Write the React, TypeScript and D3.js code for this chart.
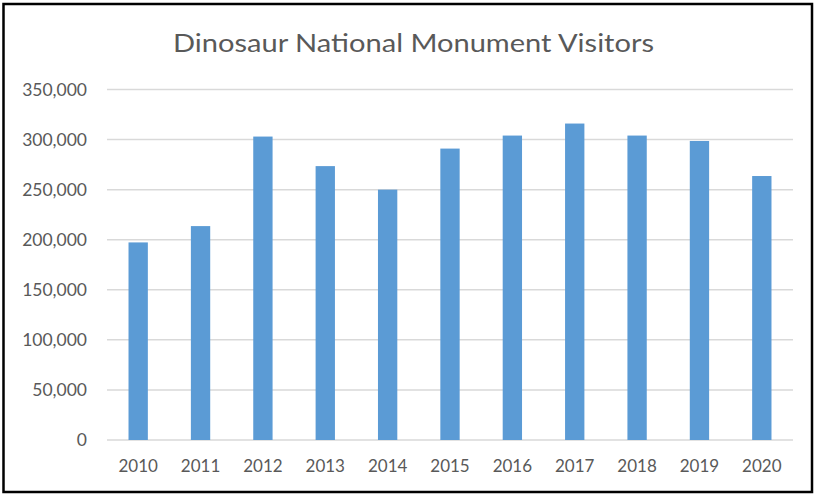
import React from "react";
import * as d3 from "d3";

const years = ["2010", "2011", "2012", "2013", "2014", "2015", "2016", "2017", "2018", "2019", "2020"];
const visitors = [197300, 213600, 303000, 273500, 250000, 291000, 304000, 316000, 304000, 298600, 263600];
const yTicks = [0, 50000, 100000, 150000, 200000, 250000, 300000, 350000];

const W = 815;
const H = 495;
const margin = { top: 89.5, right: 22, bottom: 55, left: 107 };
const font = "Lato, 'Open Sans', sans-serif";
const textColor = "#595959";

export default function App() {
  const x = d3
    .scaleBand<string>()
    .domain(years)
    .range([margin.left, W - margin.right])
    .paddingInner(0.69)
    .paddingOuter(0.345);

  const y = d3
    .scaleLinear()
    .domain([0, 350000])
    .range([H - margin.bottom, margin.top]);

  const fmt = d3.format(",");

  return (
    <svg
      width={W}
      height={H}
      style={{ position: "fixed", left: 0, top: 0, background: "#fff" }}
    >
      <rect x={0} y={0} width={W} height={H} fill="#fff" />
      {/* outer frame */}
      <rect x={3.5} y={4} width={808.5} height={488} fill="none" stroke="#000" strokeWidth={2.5} />

      <text
        x={413.5}
        y={52}
        textAnchor="middle"
        fontFamily={font}
        fontSize={25}
        textLength={481}
        lengthAdjust="spacingAndGlyphs"
        fill={textColor}
      >
        Dinosaur National Monument Visitors
      </text>

      {/* gridlines + y labels */}
      {yTicks.map((t) => (
        <g key={t}>
          <line
            x1={margin.left}
            x2={W - margin.right}
            y1={y(t)}
            y2={y(t)}
            stroke="#d9d9d9"
            strokeWidth={1.5}
          />
          <text
            x={87}
            y={y(t)}
            dy="0.35em"
            textAnchor="end"
            fontFamily={font}
            fontSize={17.5}
            fill={textColor}
          >
            {fmt(t)}
          </text>
        </g>
      ))}

      {/* bars */}
      {years.map((yr, i) => (
        <rect
          key={yr}
          x={x(yr)}
          y={y(visitors[i])}
          width={x.bandwidth()}
          height={y(0) - y(visitors[i])}
          fill="#5b9bd5"
        />
      ))}

      {/* x labels */}
      {years.map((yr) => (
        <text
          key={yr}
          x={(x(yr) ?? 0) + x.bandwidth() / 2}
          y={472}
          textAnchor="middle"
          fontFamily={font}
          fontSize={17}
          fill={textColor}
        >
          {yr}
        </text>
      ))}
    </svg>
  );
}
